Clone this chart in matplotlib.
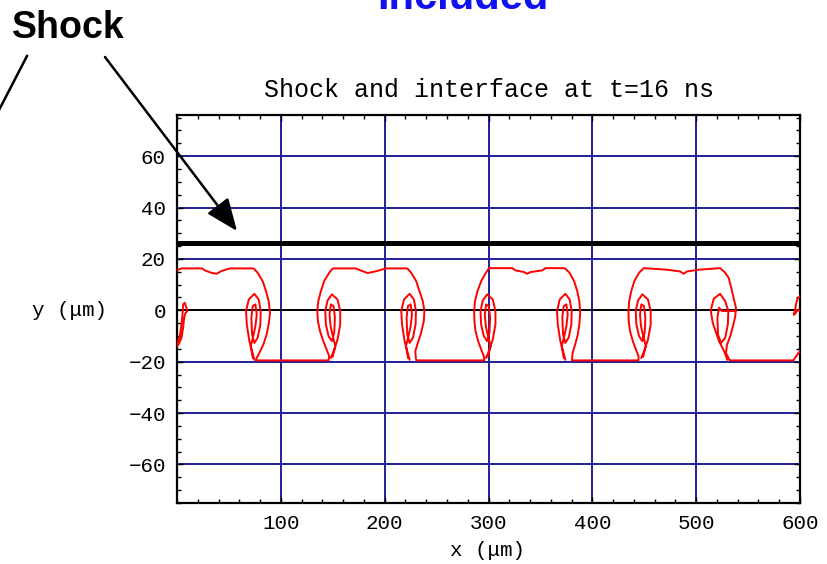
import matplotlib

matplotlib.use("Agg")
import matplotlib.pyplot as plt  # noqa: E402
from matplotlib.ticker import FixedLocator, MultipleLocator  # noqa: E402

TITLE = "Shock and interface at t=16 ns"
X_TICKS = [100, 200, 300, 400, 500, 600]
Y_TICKS = [-60, -40, -20, 0, 20, 40, 60]
GRID_X = [100, 200, 300, 400, 500]
GRID_Y = [-60, -40, -20, 20, 40, 60]
SHOCK_Y = 26.0

# interface contour (um): bubble tops near +16, spike floor near -20
outer = [
    (0, 15.5), (4, 16.3), (24, 16.3), (27, 15.5), (33, 14.6), (38, 14.2), (43, 15.3), (51, 16.3), (72, 16.3),
    (74, 16.2), (77.7, 14.6), (82.5, 11.3), (85.8, 7.4), (88.3, 3.5), (89.6, -1), (88.3, -5.5), (86.3, -9.4),
    (83.2, -13.3), (79.3, -16.6), (76.5, -18.8), (76, -19.5),
    (146, -19.5), (146.6, -17.9), (144.1, -15.3), (140.9, -12.0), (137.7, -8.1), (135.7, -4.2), (135.1, -0.3),
    (136.1, 3.6), (138.6, 7.5), (141.8, 11.4), (146.6, 14.6), (150, 16.3),
    (172, 16.3), (177, 15.5), (183.5, 14.5), (188.3, 14.9), (194.7, 15.5), (201, 16.3), (221, 16.3),
    (222.5, 16.0), (225.5, 14.6), (230.3, 11.4), (233.5, 7.5), (236.7, 3.6), (238.3, -0.3), (237.7, -4.2),
    (235.1, -8.8), (231.9, -12.7), (229.5, -16), (230, -18.5), (230.5, -19.5),
    (296, -19.5), (295.5, -17.9), (293, -15.3), (290, -12), (287.5, -8.1), (286.4, -4.2), (286.2, -0.3),
    (287, 3.6), (289.5, 7.5), (293, 11.4), (297.5, 14.6), (300.5, 16.4),
    (322.9, 16.4), (326.1, 15.5), (334.1, 14.9), (337.3, 14.2), (340.5, 14.9), (351.7, 15.5), (354.9, 16.4), (372, 16.4),
    (374, 16.2), (378, 14.6), (382.5, 11.3), (385.5, 7.4), (387.5, 3.5), (388.3, -1), (387.5, -5.5), (386, -9.4),
    (383.5, -13.3), (381, -16.6), (380.5, -18.8), (380.3, -19.5),
    (444.4, -19.5), (444.5, -17.9), (442, -15.3), (439, -12), (436.3, -8.1), (435, -4.2), (434.8, -0.3),
    (435.5, 3.6), (437.5, 7.5), (440.5, 11.4), (445, 14.6), (449.5, 16.4),
    (471.9, 15.8), (484.7, 15.1), (488, 14.2), (491.1, 15.1), (502.4, 15.8), (523.2, 16.4),
    (528, 14.6), (531.2, 12.7), (533.8, 8.8), (536, 4.9), (538.3, 1), (537.7, -2.3), (535.4, -6.2),
    (532.8, -10.1), (529.6, -13.6), (528.7, -16.6), (531.9, -19.2), (532.5, -19.5),
    (593.7, -19.5), (595.3, -18.5), (598.5, -16.6), (600, -16),
]

# rolled-up vortices along the bubble flanks
vortex_0L = [(0, -14), (1.8, -13.1), (4.3, -10.7), (5.9, -6.8), (6.9, -2.9), (8.2, -1.0), (10.1, -0.3),
             (9.1, 0.9), (7.5, 2.9), (5.9, 2.3), (5.3, -1.6), (4.3, -5.5), (2.7, -10.1), (0.5, -12.7)]
vortex_0R = [(74.5, -19.2), (72.3, -15.9), (69.7, -12.0), (67.2, -5.5), (66.5, -0.3), (69.1, 4.2), (74.5, 6.4),
             (78.7, 4.2), (80.6, -0.3), (80.3, -5.5), (77.7, -10.7), (74.5, -12.7), (72.3, -9.4), (71.6, -2.9),
             (72.9, 1.6), (75.5, 2.3), (76.8, -1.6), (75.5, -6.2), (73.5, -10), (71, -14), (73, -18.5)]
vortex_1L = [(148.2, -18.5), (151.4, -15.3), (154.6, -11.4), (157.2, -5.5), (157.2, -0.3), (154.6, 4.2),
             (149.2, 6.2), (145.0, 3.8), (142.8, -0.3), (143.4, -5.5), (146.0, -10.1), (149.2, -12.0),
             (151.4, -8.8), (152.1, -2.9), (150.8, 1.6), (148.2, 2.3), (146.9, -1.6), (147.9, -6.2),
             (150, -10), (152.5, -14), (150, -18)]
vortex_1R = [(224, -19.2), (221.8, -15.9), (219.2, -12), (216.7, -5.5), (216, -0.3), (218.6, 4.2), (224, 6.4),
             (228.2, 4.2), (230.1, -0.3), (229.8, -5.5), (227.2, -10.7), (224, -12.7), (221.8, -9.4),
             (221.1, -2.9), (222.4, 1.6), (225, 2.3), (226.3, -1.6), (225, -6.2), (223, -10), (220.5, -14),
             (222.5, -18.5)]
vortex_2L = [(297.7, -18.5), (300.9, -15.3), (304.1, -11.4), (306.7, -5.5), (306.7, -0.3), (304.1, 4.2),
             (298.7, 6.2), (294.5, 3.8), (292.3, -0.3), (292.9, -5.5), (295.5, -10.1), (298.7, -12),
             (300.9, -8.8), (301.6, -2.9), (300.3, 1.6), (297.7, 2.3), (296.4, -1.6), (297.4, -6.2),
             (299.5, -10), (302, -14), (299.5, -18)]
vortex_2R = [(374, -19.2), (371.8, -15.9), (369.2, -12), (366.7, -5.5), (366, -0.3), (368.6, 4.2), (374, 6.4),
             (378.2, 4.2), (380.1, -0.3), (379.8, -5.5), (377.2, -10.7), (374, -12.7), (371.8, -9.4),
             (371.1, -2.9), (372.4, 1.6), (375, 2.3), (376.3, -1.6), (375, -6.2), (373, -10), (370.5, -14),
             (372.5, -18.5)]
vortex_3L = [(447.2, -18.5), (450.4, -15.3), (453.6, -11.4), (456.2, -5.5), (456.2, -0.3), (453.6, 4.2),
             (448.2, 6.2), (444, 3.8), (441.8, -0.3), (442.4, -5.5), (445, -10.1), (448.2, -12),
             (450.4, -8.8), (451.1, -2.9), (449.8, 1.6), (447.2, 2.3), (445.9, -1.6), (446.9, -6.2),
             (449, -10), (451.5, -14), (449, -18)]
vortex_3R = [(530, -19.2), (527, -16), (522, -12), (516, -5), (514, 0), (517, 4.5), (523, 6.4), (528, 3.5),
             (531, -0.3), (530.5, -5.5), (528, -10.7), (524, -12.7), (521, -9.4), (520.5, -2.9), (522, 1),
             (525, -0.3), (538, -0.3)]
vortex_4L = [(600, 5.5), (597.5, 4.5), (596, 2), (595, -0.5), (594, -1.8), (596, -1), (597, 0), (600, 0)]

vortices = [vortex_0L, vortex_0R, vortex_1L, vortex_1R, vortex_2L, vortex_2R,
            vortex_3L, vortex_3R, vortex_4L]

W, H = 827, 564
GRID_COLOR = "#1f1f95"
MONO = "Liberation Mono"

fig = plt.figure(figsize=(W / 100, H / 100), dpi=100)
ax = fig.add_axes([177 / W, 1 - 503 / H, (800 - 177) / W, (503 - 115) / H])

for gx in GRID_X:
    ax.axvline(gx, color=GRID_COLOR, lw=1.4, zorder=1)
for gy in GRID_Y:
    ax.axhline(gy, color=GRID_COLOR, lw=1.4, zorder=1)
ax.axhline(0, color="black", lw=1.4, zorder=2)

ox, oy = zip(*outer)
ax.plot(ox, oy, color="red", lw=1.4, zorder=3)
for v in vortices:
    vx, vy = zip(*v)
    ax.plot(vx, vy, color="red", lw=1.4, zorder=3)

ax.axhline(SHOCK_Y, color="black", lw=3.6, zorder=4)

ax.set_xlim(0, 600)
ax.set_ylim(-75, 76)
ax.xaxis.set_major_locator(FixedLocator(X_TICKS))
ax.xaxis.set_minor_locator(MultipleLocator(20))
ax.yaxis.set_major_locator(FixedLocator(Y_TICKS))
ax.yaxis.set_minor_locator(MultipleLocator(5))
ax.tick_params(which="both", direction="in", top=True, right=True, width=1.0,
               labelsize=15, pad=8)
ax.tick_params(which="major", length=4.5)
ax.tick_params(which="minor", length=3)
for lab in ax.get_xticklabels() + ax.get_yticklabels():
    lab.set_fontfamily(MONO)
for s in ax.spines.values():
    s.set_linewidth(1.6)

fig.text(489 / W, 1 - 90 / H, TITLE, ha="center", va="center", fontsize=18, family=MONO)
fig.text(70 / W, 1 - 310 / H, "y (\u03bcm)", ha="center", va="center", fontsize=15, family=MONO)
fig.text(487 / W, 1 - 550 / H, "x (\u03bcm)", ha="center", va="center", fontsize=15, family=MONO)

# slide annotations around the plot (the blue heading is cut by the top edge, as in the slide)
fig.text(12 / W, 1 - 38 / H, "Shock", ha="left", va="baseline", fontsize=27,
         fontweight="bold", family="Liberation Sans")
fig.text(463 / W, 1 - 9 / H, "Included", ha="center", va="baseline", fontsize=30,
         fontweight="bold", family="Liberation Sans", color="#1010f0")
fig.add_artist(plt.Line2D([27 / W, -2 / W], [1 - 56 / H, 1 - 112 / H], color="black", lw=1.8))
ax.annotate("", xy=(237, H - 231), xycoords="figure pixels",
            xytext=(105, H - 57), textcoords="figure pixels",
            arrowprops=dict(arrowstyle="-|>,head_length=1.1,head_width=0.45",
                            mutation_scale=18, lw=1.8, color="black",
                            shrinkA=0, shrinkB=0),
            annotation_clip=False)

fig.savefig("out.png", dpi=100)
